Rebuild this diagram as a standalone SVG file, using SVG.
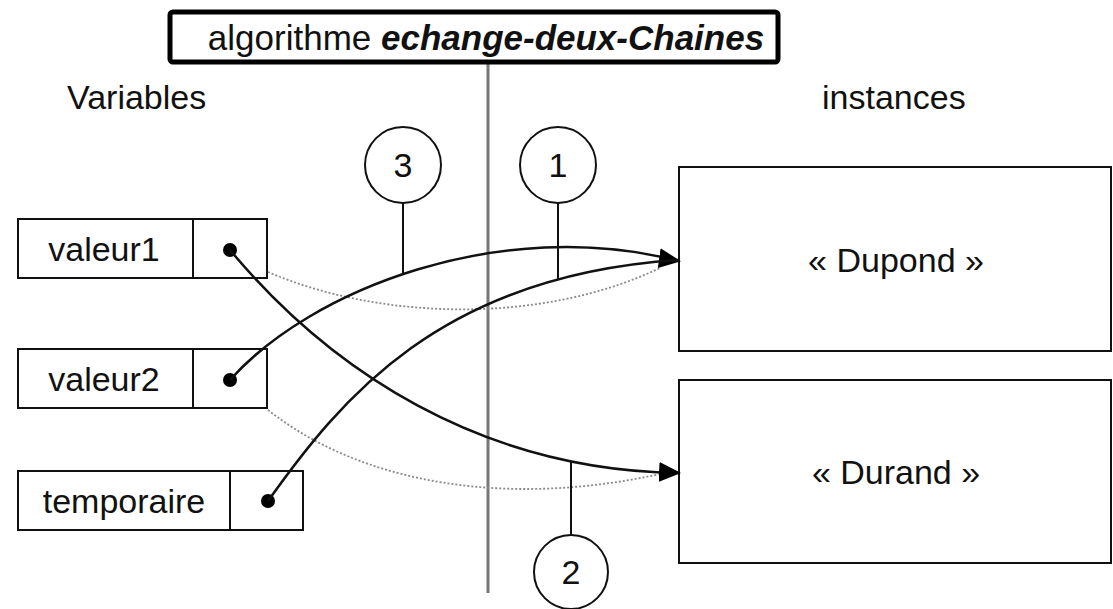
<svg xmlns="http://www.w3.org/2000/svg" width="1113" height="609" viewBox="0 0 1113 609">
<style>
text{font-family:"Liberation Sans",Arial,sans-serif;font-size:34px;fill:#111}
.box{fill:#fff;stroke:#111;stroke-width:2}
.ln{fill:none;stroke:#111;stroke-width:2}
.cur{fill:none;stroke:#111;stroke-width:2.5}
.dot{fill:none;stroke:#8a8a8a;stroke-width:1.8;stroke-dasharray:2 2}
.mid{text-anchor:middle}
</style>
<defs>
<marker id="arrA" markerWidth="22" markerHeight="20" refX="20" refY="10" orient="8" markerUnits="userSpaceOnUse">
<path d="M0,0 L22,10 L0,20 Z" fill="#000"/>
</marker>
<marker id="arrB" markerWidth="22" markerHeight="20" refX="20" refY="10" orient="3" markerUnits="userSpaceOnUse">
<path d="M0,0 L22,10 L0,20 Z" fill="#000"/>
</marker>
</defs>
<line x1="488" y1="62" x2="488" y2="593" stroke="#777" stroke-width="3"/>
<g id="title">
<rect x="170" y="12" width="608" height="50" rx="3" fill="#fff" stroke="#000" stroke-width="5"/>
<text x="486" y="50" class="mid" style="font-size:35px">algorithme <tspan font-weight="bold" font-style="italic">echange-deux-Chaines</tspan></text>
</g>
<text x="67" y="109">Variables</text>
<text x="822" y="109">instances</text>
<g id="valeur1">
<rect class="box" x="18" y="219" width="249" height="59"/>
<line class="ln" x1="193" y1="219" x2="193" y2="278"/>
<text x="104" y="261" class="mid">valeur1</text>
<circle cx="230" cy="250" r="7" fill="#000"/>
</g>
<g id="valeur2">
<rect class="box" x="18" y="349" width="249" height="59"/>
<line class="ln" x1="193" y1="349" x2="193" y2="408"/>
<text x="104" y="391" class="mid">valeur2</text>
<circle cx="230" cy="380" r="7" fill="#000"/>
</g>
<g id="temporaire">
<rect class="box" x="18" y="471" width="285" height="59"/>
<line class="ln" x1="230" y1="471" x2="230" y2="530"/>
<text x="124" y="513" class="mid">temporaire</text>
<circle cx="268" cy="501" r="7" fill="#000"/>
</g>
<g id="dupond">
<rect class="box" x="679" y="167" width="432" height="184"/>
<text x="896" y="272" class="mid">« Dupond »</text>
</g>
<g id="durand">
<rect class="box" x="679" y="380" width="432" height="183"/>
<text x="896" y="484" class="mid">« Durand »</text>
</g>
<g id="connectors">
<path class="dot" d="M268,272 C380,320 540,325 660,268"/>
<path class="dot" d="M268,410 C370,490 520,505 660,474"/>
<path class="cur" d="M230,380 C310,290 500,215 679,261" marker-end="url(#arrA)"/>
<path class="cur" d="M268,501 C340,400 440,275 679,260"/>
<path class="cur" d="M230,250 C330,370 480,470 679,473" marker-end="url(#arrB)"/>
</g>
<g id="step3">
<line class="ln" x1="403" y1="203" x2="403" y2="274"/>
<circle cx="403" cy="165" r="38" fill="#fff" stroke="#111" stroke-width="2"/>
<text x="403" y="177" class="mid">3</text>
</g>
<g id="step1">
<line class="ln" x1="558" y1="203" x2="558" y2="280"/>
<circle cx="558" cy="165" r="38" fill="#fff" stroke="#111" stroke-width="2"/>
<text x="558" y="177" class="mid">1</text>
</g>
<g id="step2">
<line class="ln" x1="571" y1="461" x2="571" y2="535"/>
<circle cx="571" cy="572" r="37" fill="#fff" stroke="#111" stroke-width="2"/>
<text x="571" y="584" class="mid">2</text>
</g>
</svg>
